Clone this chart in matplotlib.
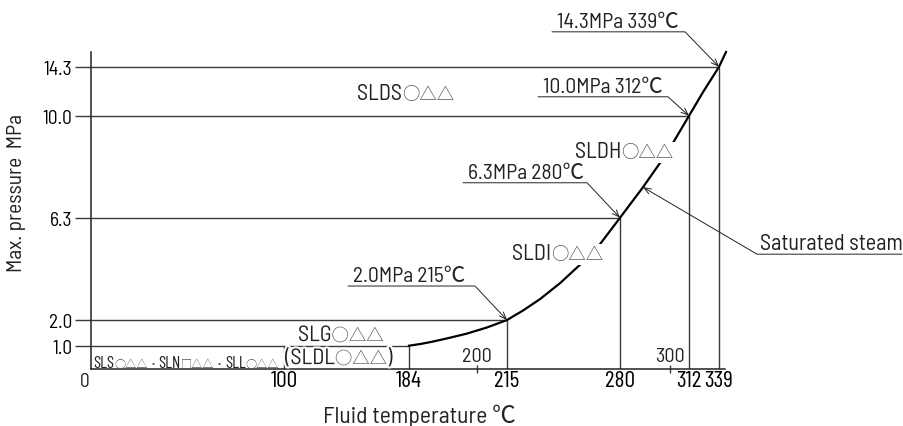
import numpy as np
import matplotlib
matplotlib.use("Agg")
import matplotlib.pyplot as plt
import matplotlib.patheffects as pe

# saturated steam curve (temperature C, pressure MPa)
steam_temp = [184, 186.8, 189.6, 193.6, 197.6, 205, 215, 224.2, 234, 245.5, 259.9, 268.5, 280, 289.2, 298.8, 312, 324.6, 339, 345.3]
steam_pres = [1.0, 1.07, 1.16, 1.31, 1.47, 1.71, 2.0, 2.40, 2.88, 3.55, 4.52, 5.19, 6.3, 7.41, 8.65, 10.0, 12.08, 14.3, 15.6]

# rating points marked on the curve
rated_temp = [215, 280, 312, 339]
rated_pres = [2.0, 6.3, 10.0, 14.3]
rated_text = ["2.0MPa 215℃", "6.3MPa 280℃", "10.0MPa 312℃", "14.3MPa 339℃"]

# low pressure box
box_pres = 1.0
box_temp = [100, 184]

y_ticks = [1.0, 2.0, 6.3, 10.0, 14.3]
y_labels = ["1.0", "2.0", "6.3", "10.0", "14.3"]
x_ticks = [100, 184, 215, 280, 312, 339]
x_minor = [200, 300]

# the chart is not drawn to scale -> knots of a piecewise axis
xk_val = [0, 100, 184, 200, 215, 280, 300, 312, 339, 350]
xk_pix = [0, 193, 318, 386, 416, 529, 579, 598, 628, 640.2]
yk_val = [0, 1, 2, 6.3, 10, 14.3, 16]
yk_pix = [0, 23.3, 49, 151.3, 253.3, 302.3, 321.7]


def fx(v):
    return np.interp(v, xk_val, xk_pix)

def fx_inv(p):
    return np.interp(p, xk_pix, xk_val)

def fy(v):
    return np.interp(v, yk_val, yk_pix)

def fy_inv(p):
    return np.interp(p, yk_pix, yk_val)


main_font = ["Barlow Semi Condensed", "Noto Sans CJK JP", "DejaVu Sans"]
tall_font = ["Barlow Condensed", "Noto Sans CJK JP", "DejaVu Sans"]
sym_font = ["Noto Sans CJK JP", "DejaVu Sans"]
plt.rcParams["font.family"] = main_font
plt.rcParams["text.color"] = "#222222"

ink = "#222222"
grey = "#3a3a3a"
sym_col = "#555555"
fs = 15.5

fig = plt.figure(figsize=(9.04, 4.27), dpi=100)
ax = fig.add_axes([91 / 904, 57 / 427, 634 / 904, 317 / 427])
ax.set_xscale("function", functions=(fx, fx_inv))
ax.set_yscale("function", functions=(fy, fy_inv))
ax.set_xlim(0, 344.4)
ax.set_ylim(0, 15.6)

for s in ["top", "right"]:
    ax.spines[s].set_visible(False)
for s in ["left", "bottom"]:
    ax.spines[s].set_linewidth(1.1)
    ax.spines[s].set_color(ink)

# reference lines to each rating point
ax.hlines(rated_pres, 0, rated_temp, color=grey, lw=1.0, zorder=2)
ax.vlines(rated_temp, 0, rated_pres, color=grey, lw=1.0, zorder=2)
ax.hlines(box_pres, 0, box_temp[1], color=grey, lw=1.0, zorder=2)
ax.vlines(box_temp, 0, box_pres, color=grey, lw=1.0, zorder=2)

ax.plot(steam_temp, steam_pres, color="black", lw=1.6, zorder=3, clip_on=False)

# ticks
ax.set_yticks(y_ticks)
ax.set_yticklabels(y_labels)
ax.tick_params(axis="y", length=11.5, width=1.0, pad=2, labelsize=14, color=grey)
ax.set_xticks(x_ticks)
ax.set_xticklabels([str(t) for t in x_ticks], family=tall_font)
ax.set_xticks(x_minor, minor=True)
ax.tick_params(axis="x", which="major", length=0, pad=1, labelsize=17)
ax.tick_params(axis="x", which="minor", direction="inout", length=6, width=1.0, color=grey)
for t in x_minor:
    ax.annotate(str(t), xy=(t, 0), xytext=(0, 8), textcoords="offset pixels",
                ha="center", va="baseline", fontsize=14.5)
ax.annotate("0", xy=(0, 0), xytext=(-6, -17), textcoords="offset pixels",
            ha="center", va="baseline", fontsize=14, annotation_clip=False)

# callouts: elbow offset (px) and underline length
callout = [(-32, 34, 127), (-33, 35, 124), (-21, 19, 130), (-34, 35, 133)]
for t, p, txt, (dx, dy, L) in zip(rated_temp, rated_pres, rated_text, callout):
    ang = np.degrees(np.arctan2(dy, dx))
    ax.annotate("", xy=(t, p), xytext=(dx - L, dy), textcoords="offset pixels",
                arrowprops=dict(arrowstyle="->,head_length=0.5,head_width=0.2",
                                connectionstyle=f"angle,angleA=0,angleB={ang},rad=0",
                                shrinkA=0, shrinkB=0, lw=0.7, color=ink),
                annotation_clip=False)
    ax.annotate(txt, xy=(t, p), xytext=(dx - L + 5, dy + 5), textcoords="offset pixels",
                ha="left", va="baseline", fontsize=fs, annotation_clip=False)

# saturated steam callout
i = 13
ang = np.degrees(np.arctan2(-67, 114))
ax.annotate("", xy=(steam_temp[i], steam_pres[i]), xytext=(114 + 145, -67), textcoords="offset pixels",
            arrowprops=dict(arrowstyle="->,head_length=0.5,head_width=0.2",
                            connectionstyle=f"angle,angleA=0,angleB={ang},rad=0",
                            shrinkA=0, shrinkB=0, lw=0.7, color=ink),
            annotation_clip=False)
ax.annotate("Saturated steam", xy=(steam_temp[i], steam_pres[i]), xytext=(117, -62), textcoords="offset pixels",
            ha="left", va="baseline", fontsize=16, annotation_clip=False)


# model labels: latin text and the thin symbol glyphs are set one after another
def model_label(x, y, parts, size, sym_size, fam, **kw):
    prev = ax.text(x, y, parts[0], fontsize=size, family=fam, va="baseline", zorder=5, **kw)
    for s in parts[1:]:
        if s[0] in "○△□・":
            prev = ax.annotate(s, xy=(1, y), xycoords=(prev, "data"), va="baseline", ha="left",
                               fontsize=sym_size, family=sym_font, color=sym_col, zorder=5,
                               annotation_clip=False, **kw)
        else:
            prev = ax.annotate(s, xy=(1, y), xycoords=(prev, "data"), va="baseline", ha="left",
                               fontsize=size, family=fam, zorder=5, annotation_clip=False, **kw)


white = dict(fc="white", ec="none", pad=1)
halo = [pe.withStroke(linewidth=3, foreground="white")]
model_label(149, 11.46, ["SLDS", "○△△"], 16, 12.5, main_font)
model_label(254.1, 8.5, ["SLDH", "○△△"], 16, 12.5, main_font, bbox=white)
model_label(217.9, 4.56, ["SLDI", "○△△"], 16, 12.5, main_font, bbox=white)
model_label(109.4, 1.18, ["SLG", "○△△"], 16, 12.5, main_font, path_effects=halo)
model_label(100.7, 0.21, ["(SLDL", "○△△", ")"], 16, 12.5, main_font, path_effects=halo)
model_label(1, 0.09, ["SLS", "○△△", "・", "SLN", "□△△", "・", "SLL", "○△△"], 12.3, 8.0, tall_font)

fig.text(17 / 904, 1 - 193 / 427, "Max. pressure  MPa", rotation=90, ha="center", va="center", fontsize=15.5)
fig.text(323 / 904, 4 / 427, "Fluid temperature ℃", ha="left", va="baseline", fontsize=17)

fig.savefig("out.png", dpi=100)
